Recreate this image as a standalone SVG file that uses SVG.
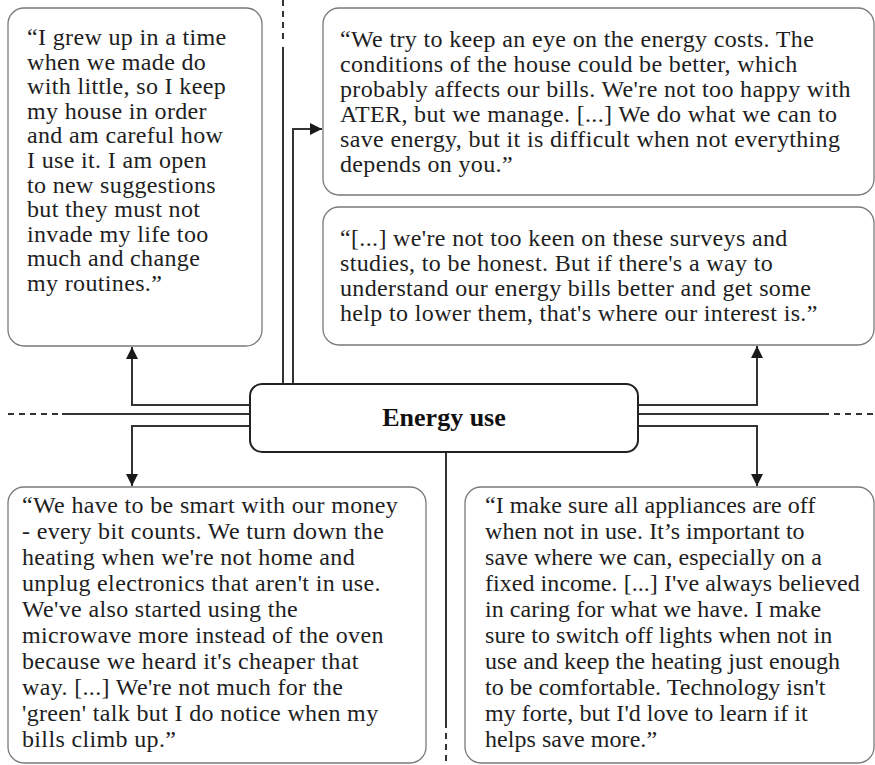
<svg xmlns="http://www.w3.org/2000/svg" width="875" height="765" viewBox="0 0 875 765">
<style>
.quote{fill:#fff;stroke:#7a7a7a;stroke-width:1.3}
.q{font-family:"Liberation Serif","Times New Roman",serif;font-size:24px;fill:#1e1e1e;letter-spacing:0.35px}
.q2{letter-spacing:0.05px}
.title{font-family:"Liberation Serif","Times New Roman",serif;font-size:26px;font-weight:bold;fill:#111}
.ln{fill:none;stroke:#333;stroke-width:2}
.dash{fill:none;stroke:#333;stroke-width:2;stroke-dasharray:6 5}
</style>
<defs>
<marker id="arr" viewBox="0 0 10 10" refX="10" refY="5" markerWidth="6" markerHeight="6" markerUnits="strokeWidth" orient="auto">
<path d="M0,0 L10,5 L0,10 Z" fill="#1a1a1a"/>
</marker>
</defs>
<g id="connectors">
<path class="dash" d="M283,0 V42"/>
<path class="ln" d="M283,47 V384"/>
<path class="ln" d="M293,384 V129 H322" marker-end="url(#arr)"/>
<path class="ln" d="M250,405 H132 V347" marker-end="url(#arr)"/>
<path class="dash" d="M8,414 H58"/>
<path class="ln" d="M62,414 H250"/>
<path class="ln" d="M250,426 H132 V486" marker-end="url(#arr)"/>
<path class="ln" d="M638,405 H757 V346" marker-end="url(#arr)"/>
<path class="ln" d="M638,414 H829"/>
<path class="dash" d="M834,414 H875"/>
<path class="ln" d="M638,426 H757 V486" marker-end="url(#arr)"/>
<path class="ln" d="M446,452 V728"/>
<path class="dash" d="M446,733 V765"/>
</g>
<g id="center">
<rect x="250" y="384" width="388" height="68" rx="12" fill="#fff" stroke="#222" stroke-width="2"/>
<text class="title" x="444" y="426" text-anchor="middle">Energy use</text>
</g>
<g id="quote-tl">
<rect class="quote" x="8" y="8" width="254" height="338" rx="16"/>
<text class="q">
<tspan x="27" y="45">“I grew up in a time</tspan>
<tspan x="27" y="69.6">when we made do</tspan>
<tspan x="27" y="94.2">with little, so I keep</tspan>
<tspan x="27" y="118.8">my house in order</tspan>
<tspan x="27" y="143.4">and am careful how</tspan>
<tspan x="27" y="168">I use it. I am open</tspan>
<tspan x="27" y="192.6">to new suggestions</tspan>
<tspan x="27" y="217.2">but they must not</tspan>
<tspan x="27" y="241.8">invade my life too</tspan>
<tspan x="27" y="266.4">much and change</tspan>
<tspan x="27" y="291">my routines.”</tspan>
</text>
</g>
<g id="quote-tr1">
<rect class="quote" x="323" y="8" width="551" height="187" rx="16"/>
<text class="q">
<tspan x="340" y="47">“We try to keep an eye on the energy costs. The</tspan>
<tspan x="340" y="72">conditions of the house could be better, which</tspan>
<tspan x="340" y="97">probably affects our bills. We're not too happy with</tspan>
<tspan x="340" y="122">ATER, but we manage. [...] We do what we can to</tspan>
<tspan x="340" y="147">save energy, but it is difficult when not everything</tspan>
<tspan x="340" y="172">depends on you.”</tspan>
</text>
</g>
<g id="quote-tr2">
<rect class="quote" x="323" y="207" width="551" height="138" rx="16"/>
<text class="q">
<tspan x="340" y="246">“[...] we're not too keen on these surveys and</tspan>
<tspan x="340" y="271">studies, to be honest. But if there's a way to</tspan>
<tspan x="340" y="296">understand our energy bills better and get some</tspan>
<tspan x="340" y="321">help to lower them, that's where our interest is.”</tspan>
</text>
</g>
<g id="quote-bl">
<rect class="quote" x="8" y="487" width="418" height="276" rx="16"/>
<text class="q">
<tspan x="22" y="513">“We have to be smart with our money</tspan>
<tspan x="22" y="539">- every bit counts. We turn down the</tspan>
<tspan x="22" y="565">heating when we're not home and</tspan>
<tspan x="22" y="591">unplug electronics that aren't in use.</tspan>
<tspan x="22" y="617">We've also started using the</tspan>
<tspan x="22" y="643">microwave more instead of the oven</tspan>
<tspan x="22" y="669">because we heard it's cheaper that</tspan>
<tspan x="22" y="695">way. [...] We're not much for the</tspan>
<tspan x="22" y="721">'green' talk but I do notice when my</tspan>
<tspan x="22" y="747">bills climb up.”</tspan>
</text>
</g>
<g id="quote-br">
<rect class="quote" x="465" y="487" width="409" height="276" rx="16"/>
<text class="q q2">
<tspan x="485" y="513">“I make sure all appliances are off</tspan>
<tspan x="485" y="539">when not in use. It’s important to</tspan>
<tspan x="485" y="565">save where we can, especially on a</tspan>
<tspan x="485" y="591">fixed income. [...] I've always believed</tspan>
<tspan x="485" y="617">in caring for what we have. I make</tspan>
<tspan x="485" y="643">sure to switch off lights when not in</tspan>
<tspan x="485" y="669">use and keep the heating just enough</tspan>
<tspan x="485" y="695">to be comfortable. Technology isn't</tspan>
<tspan x="485" y="721">my forte, but I'd love to learn if it</tspan>
<tspan x="485" y="747">helps save more.”</tspan>
</text>
</g>
</svg>
